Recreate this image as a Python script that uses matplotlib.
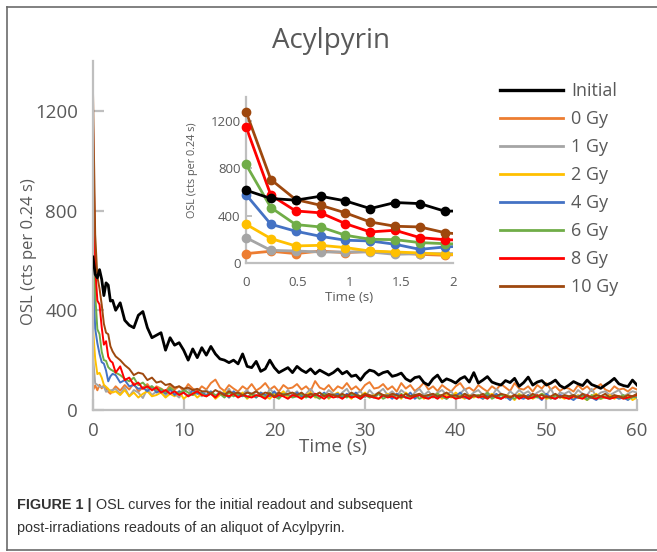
import numpy as np
import matplotlib
matplotlib.use("Agg")
import matplotlib.pyplot as plt
from matplotlib.lines import Line2D

# ---------------- data ----------------
series_labels = ["Initial", "0 Gy", "1 Gy", "2 Gy", "4 Gy", "6 Gy", "8 Gy", "10 Gy"]
series_colors = ["#000000", "#ED7D31", "#A5A5A5", "#FFC000", "#4472C4", "#70AD47", "#FF0000", "#9E480E"]

# first channels (0.24 s per channel)
t_early = [0.0, 0.24, 0.48, 0.72, 0.96, 1.20, 1.44, 1.68, 1.92, 2.16]
early_initial = [614, 544, 530, 563, 524, 459, 510, 501, 437, 440]
early_0gy = [79, 99, 79, 101, 87, 99, 87, 73, 65, 79]
early_1gy = [214, 107, 101, 93, 93, 93, 73, 79, 79, 80]
early_2gy = [327, 206, 144, 149, 130, 101, 93, 85, 73, 70]
early_4gy = [577, 327, 268, 225, 192, 186, 158, 115, 135, 145]
early_6gy = [831, 468, 324, 304, 234, 200, 197, 172, 163, 158]
early_8gy = [1149, 572, 439, 423, 332, 262, 276, 214, 197, 190]
early_10gy = [1276, 704, 535, 487, 423, 346, 310, 304, 256, 235]

# rest of the readout, sampled every 0.5 s from 2.5 s to 60 s
t_tail = np.arange(2.5, 60.001, 0.5)
tail_initial = [
    400, 430, 360, 340, 330, 380, 395, 330, 290, 300,
    310, 240, 290, 260, 270, 240, 200, 245, 210, 250,
    220, 255, 225, 205, 200, 190, 200, 185, 225, 175,
    170, 195, 155, 165, 200, 170, 150, 160, 170, 150,
    175, 160, 150, 165, 145, 160, 150, 140, 150, 165,
    145, 155, 135, 140, 120, 145, 160, 155, 140, 150,
    155, 135, 140, 148, 125, 115, 130, 134, 110, 100,
    125, 140, 112, 125, 118, 108, 125, 134, 112, 150,
    108, 120, 134, 112, 105, 100, 118, 110, 127, 95,
    110, 132, 100, 112, 118, 100, 108, 120, 98, 88,
    100, 114, 105, 98, 120, 102, 95, 87, 100, 112,
    127, 105, 98, 94, 120, 100]
tail_0gy = [
    95, 78, 100, 82, 108, 74, 90, 104, 78, 95,
    86, 74, 100, 82, 95, 76, 104, 86, 74, 95,
    82, 108, 122, 90, 76, 100, 86, 74, 95, 82,
    104, 78, 90, 108, 82, 95, 74, 100, 86, 90,
    104, 82, 95, 76, 116, 90, 82, 100, 76, 95,
    86, 108, 82, 95, 76, 100, 112, 86, 90, 104,
    82, 95, 74, 108, 86, 100, 76, 90, 110, 82,
    95, 76, 100, 86, 74, 95, 108, 82, 90, 76,
    100, 86, 74, 95, 82, 104, 90, 76, 108, 86,
    82, 95, 74, 100, 86, 108, 82, 95, 76, 90,
    86, 74, 100, 82, 95, 76, 90, 104, 82, 74,
    95, 82, 86, 74, 90, 82]
tail_1gy = [
    85, 65, 90, 55, 80, 70, 48, 85, 60, 75,
    70, 55, 80, 65, 50, 75, 85, 60, 70, 55,
    80, 65, 50, 75, 60, 85, 55, 70, 65, 80,
    55, 75, 60, 50, 85, 65, 70, 55, 80, 60,
    75, 50, 65, 85, 60, 70, 55, 80, 65, 50,
    70, 85, 55, 65, 75, 50, 80, 60, 70, 85,
    60, 75, 55, 80, 65, 50, 70, 85, 60, 75,
    55, 70, 80, 60, 75, 50, 65, 85, 55, 70,
    80, 60, 70, 55, 85, 65, 50, 75, 60, 80,
    65, 75, 55, 70, 80, 60, 85, 50, 70, 65,
    75, 55, 80, 65, 60, 85, 55, 70, 75, 60,
    70, 80, 55, 65, 75, 70]
tail_2gy = [
    75, 60, 80, 55, 70, 50, 65, 75, 55, 60,
    70, 50, 65, 55, 75, 45, 60, 70, 50, 65,
    55, 70, 45, 60, 75, 50, 65, 55, 70, 45,
    60, 50, 70, 55, 45, 65, 60, 75, 50, 55,
    65, 45, 60, 70, 50, 55, 65, 45, 60, 70,
    50, 60, 45, 65, 55, 70, 50, 60, 45, 55,
    65, 50, 60, 45, 70, 55, 50, 65, 45, 60,
    55, 65, 45, 60, 50, 70, 55, 45, 60, 50,
    60, 45, 55, 65, 50, 45, 60, 55, 40, 65,
    50, 60, 45, 55, 65, 45, 50, 60, 55, 45,
    55, 45, 60, 50, 40, 55, 65, 45, 50, 60,
    45, 55, 50, 60, 40, 50]
tail_4gy = [
    140, 110, 120, 95, 100, 85, 90, 75, 95, 70,
    80, 65, 85, 60, 75, 70, 55, 80, 65, 70,
    60, 75, 55, 70, 65, 50, 75, 60, 55, 70,
    65, 50, 70, 60, 55, 75, 50, 65, 60, 55,
    70, 55, 60, 50, 65, 55, 70, 50, 60, 65,
    50, 65, 55, 70, 45, 60, 55, 50, 65, 55,
    60, 45, 65, 55, 50, 70, 45, 60, 55, 50,
    65, 50, 55, 45, 60, 55, 70, 50, 45, 60,
    55, 45, 60, 50, 65, 45, 55, 40, 60, 50,
    45, 60, 50, 55, 40, 65, 50, 45, 60, 55,
    50, 40, 55, 60, 45, 50, 40, 55, 50, 45,
    55, 45, 50, 40, 55, 50]
tail_6gy = [
    150, 140, 125, 115, 130, 100, 110, 90, 95, 80,
    85, 70, 90, 75, 65, 80, 70, 60, 75, 65,
    55, 70, 60, 65, 50, 70, 55, 65, 60, 50,
    65, 55, 60, 50, 70, 55, 45, 65, 60, 50,
    55, 65, 50, 60, 55, 45, 65, 50, 60, 55,
    60, 50, 65, 55, 45, 60, 50, 55, 65, 45,
    55, 60, 45, 65, 50, 55, 60, 45, 55, 60,
    50, 65, 55, 45, 60, 50, 55, 65, 45, 55,
    60, 50, 70, 45, 55, 60, 50, 55, 45, 60,
    55, 45, 60, 50, 65, 55, 45, 60, 50, 55,
    45, 60, 50, 55, 40, 60, 50, 45, 55, 50,
    55, 50, 60, 45, 50, 55]
tail_8gy = [
    150, 175, 120, 130, 100, 110, 85, 95, 80, 90,
    70, 80, 65, 75, 60, 70, 55, 65, 75, 60,
    55, 65, 50, 70, 60, 55, 65, 50, 60, 55,
    50, 60, 55, 45, 65, 50, 60, 55, 45, 60,
    55, 45, 60, 50, 65, 55, 45, 60, 50, 55,
    45, 60, 50, 55, 45, 60, 55, 50, 45, 60,
    50, 55, 45, 60, 50, 45, 55, 60, 50, 45,
    55, 45, 60, 50, 55, 45, 50, 55, 45, 60,
    50, 55, 45, 60, 50, 45, 55, 50, 60, 45,
    55, 45, 50, 60, 45, 55, 50, 45, 55, 50,
    45, 55, 50, 45, 60, 50, 45, 55, 50, 45,
    50, 55, 45, 50, 55, 60]
tail_10gy = [
    215, 200, 180, 165, 140, 150, 145, 120, 130, 110,
    115, 100, 105, 90, 95, 85, 90, 80, 85, 75,
    75, 65, 80, 70, 60, 75, 65, 70, 60, 70,
    65, 75, 60, 70, 65, 55, 70, 60, 65, 70,
    60, 70, 55, 65, 60, 70, 55, 65, 60, 55,
    65, 55, 70, 60, 55, 65, 60, 55, 70, 60,
    55, 65, 60, 50, 65, 55, 60, 65, 55, 60,
    65, 55, 60, 70, 55, 60, 50, 65, 55, 60,
    55, 65, 50, 60, 55, 65, 60, 50, 60, 55,
    60, 50, 65, 55, 60, 50, 55, 65, 50, 60,
    55, 60, 50, 65, 55, 50, 60, 55, 65, 50,
    60, 55, 50, 60, 55, 65]

early_all = [early_initial, early_0gy, early_1gy, early_2gy, early_4gy, early_6gy, early_8gy, early_10gy]
tail_all = [tail_initial, tail_0gy, tail_1gy, tail_2gy, tail_4gy, tail_6gy, tail_8gy, tail_10gy]

# ---------------- style ----------------
FONT = ["Open Sans", "DejaVu Sans"]
TXT = "#595959"
AXC = "#BFBFBF"
plt.rcParams["font.family"] = FONT

fig = plt.figure(figsize=(6.57, 5.52), dpi=100)
W, H = 657, 552

def fx(px):
    return px / W

def fy(py):
    return 1 - py / H

# frame around the figure panel
for (x0, y0, x1, y1) in [(7, 7, 660, 7), (7, 7, 7, 550), (7, 550, 660, 550)]:
    fig.add_artist(Line2D([fx(x0), fx(x1)], [fy(y0), fy(y1)], color="#6b6b6b", lw=1.2))

# ---------------- main axes ----------------
ax = fig.add_axes([fx(93), fy(410), fx(637) - fx(93), fy(61) - fy(410)])
order = [1, 2, 3, 4, 5, 6, 7, 0]
for i in order:
    t = np.concatenate([t_early, t_tail])
    v = np.concatenate([early_all[i], tail_all[i]])
    ax.plot(t, v, color=series_colors[i], lw=2.0 if i == 0 else 1.4, zorder=3 if i == 0 else 2)
ax.set_xlim(0, 60)
ax.set_ylim(0, 1400)
ax.set_xticks(range(0, 61, 10))
ax.set_yticks([0, 400, 800, 1200])
for s in ["top", "right"]:
    ax.spines[s].set_visible(False)
for s in ["left", "bottom"]:
    ax.spines[s].set_color(AXC)
    ax.spines[s].set_linewidth(1.6)
ax.tick_params(axis="y", direction="in", length=8, width=1.6, color=AXC, labelcolor=TXT, labelsize=13.5, pad=11)
ax.tick_params(axis="x", direction="in", length=8, width=1.6, color=AXC, labelcolor=TXT, labelsize=13.5, pad=9)
ax.set_xlabel("Time (s)", fontsize=13.5, color=TXT)
ax.set_ylabel("OSL (cts per 0.24 s)", fontsize=12, color=TXT)
ax.xaxis.set_label_coords((333 - 93) / 544, (410 - 447) / 349)
ax.yaxis.set_label_coords((29 - 93) / 544, (410 - 252) / 349)
ax.xaxis.label.set_va("center")
ax.yaxis.label.set_va("center")
ax.patch.set_alpha(0)

# ---------------- inset ----------------
ins = fig.add_axes([fx(246), fy(263), fx(453) - fx(246), fy(97) - fy(263)])
for i in order:
    ins.plot(t_early, early_all[i], color=series_colors[i], lw=2.0, zorder=3 if i == 0 else 2)
    ins.plot(t_early[:-1], early_all[i][:-1], ls="none", marker="o", ms=6,
             color=series_colors[i], clip_on=False, zorder=4 if i == 0 else 3)
ins.set_xlim(0, 2)
ins.set_ylim(0, 1400)
ins.set_xticks([0, 0.5, 1, 1.5, 2])
ins.set_xticklabels(["0", "0.5", "1", "1.5", "2"])
ins.set_yticks([0, 400, 800, 1200])
for s in ["top", "right"]:
    ins.spines[s].set_visible(False)
for s in ["left", "bottom"]:
    ins.spines[s].set_color(AXC)
    ins.spines[s].set_linewidth(1.6)
ins.tick_params(axis="y", direction="in", length=4, width=1.4, color=AXC, labelcolor=TXT, labelsize=9.5, pad=4)
ins.tick_params(axis="x", direction="in", length=0, labelcolor=TXT, labelsize=9.5, pad=9)
ins.set_xlabel("Time (s)", fontsize=9.5, color=TXT, labelpad=2)
ins.set_ylabel("OSL (cts per 0.24 s)", fontsize=7.8, color=TXT)
ins.yaxis.set_label_coords((192 - 246) / 207, (263 - 170) / 166)
ins.yaxis.label.set_va("center")

# ---------------- legend ----------------
handles = [Line2D([], [], color=c, lw=2.4 if k == 0 else 2.0) for k, c in enumerate(series_colors)]
leg = fig.legend(handles, series_labels, loc="upper left", bbox_to_anchor=(fx(500), fy(82)),
                 frameon=False, fontsize=13, handlelength=3.5, handletextpad=0.45,
                 labelspacing=0.555, borderpad=0, borderaxespad=0)
for txt in leg.get_texts():
    txt.set_color(TXT)

# ---------------- title ----------------
fig.text(fx(331), fy(41), "Acylpyrin", ha="center", va="center", fontsize=20, color=TXT)

# ---------------- caption ----------------
CAP = ["Liberation Sans", "DejaVu Sans"]
capc = "#333333"
b = fig.text(fx(17), fy(505), "FIGURE 1 | ", ha="left", va="center", fontsize=10.4, fontweight="bold",
             color=capc, family=CAP)
fig.canvas.draw()
bb = b.get_window_extent(fig.canvas.get_renderer())
fig.text(bb.x1 / W, fy(505), "OSL curves for the initial readout and subsequent", ha="left", va="center",
         fontsize=10.4, color=capc, family=CAP)
fig.text(fx(17), fy(528), "post-irradiations readouts of an aliquot of Acylpyrin.", ha="left", va="center",
         fontsize=10.4, color=capc, family=CAP)

fig.savefig("out.png", dpi=100)
